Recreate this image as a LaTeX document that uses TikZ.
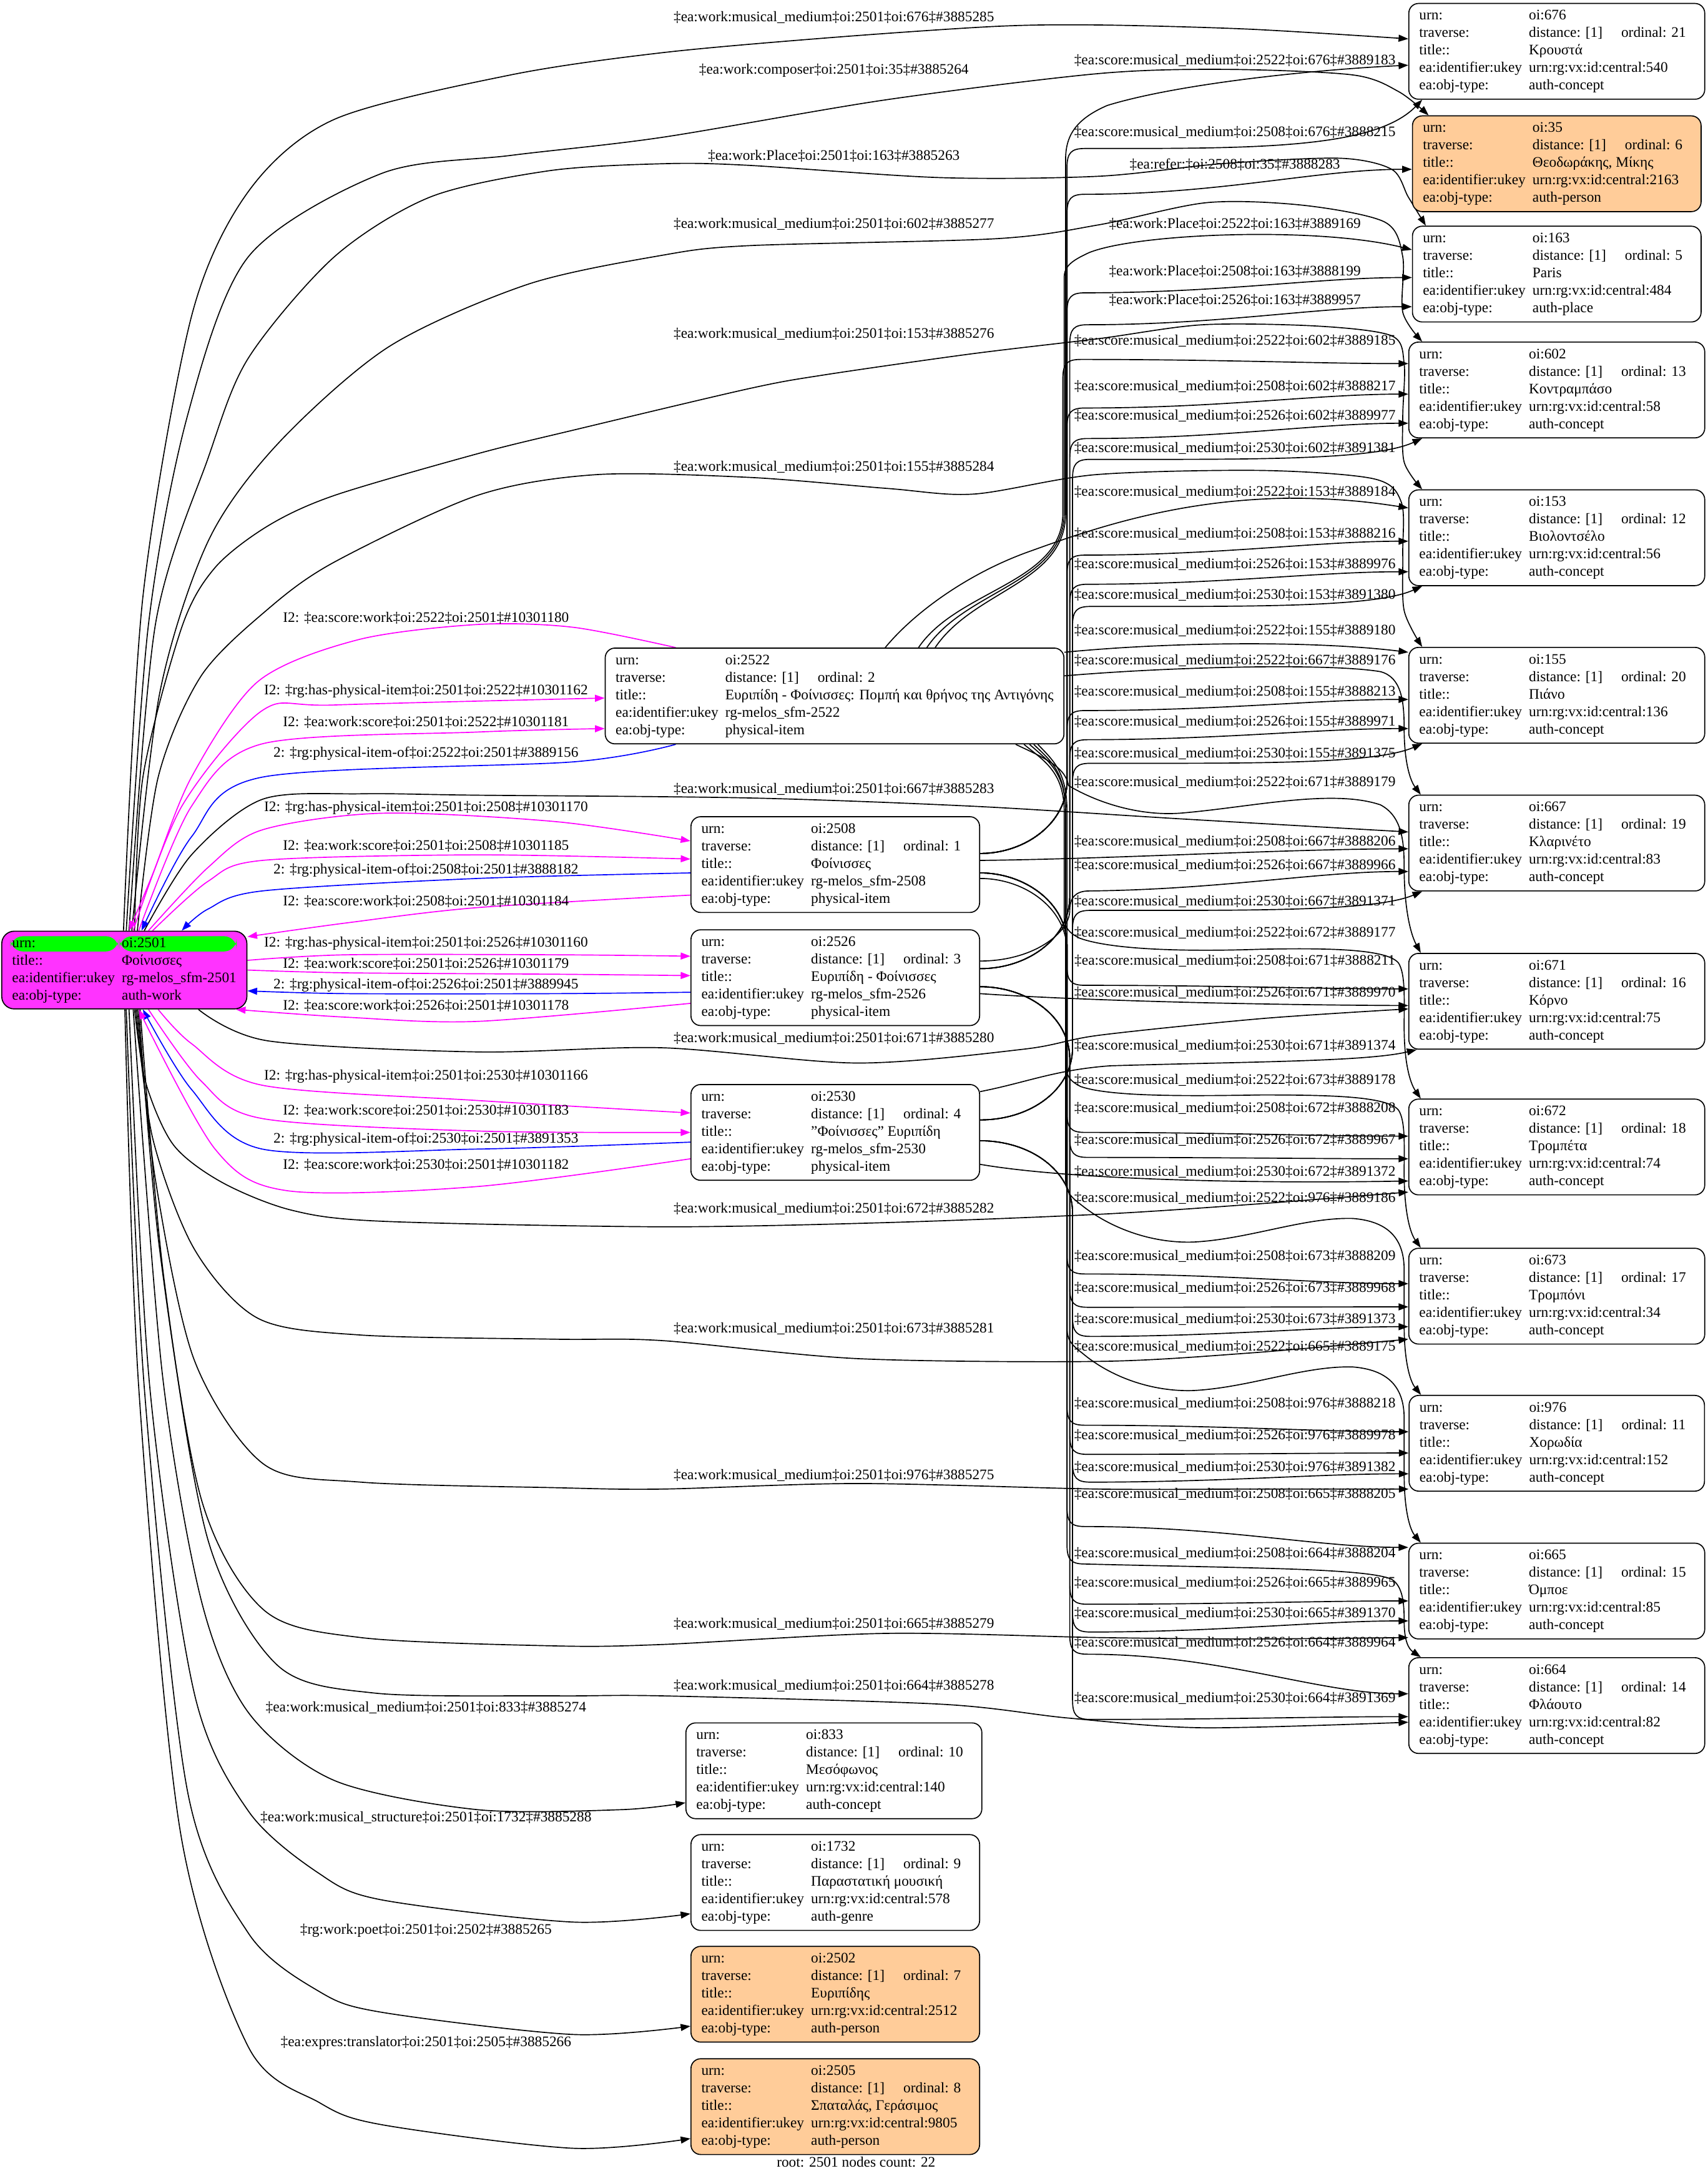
\documentclass[tikz,border=0pt]{standalone}
\usepackage{fontspec}
\setmainfont{Liberation Serif}
\usetikzlibrary{arrows.meta}
\pgfdeclarelayer{bg}
\pgfsetlayers{bg,main}
\definecolor{mag}{HTML}{FF00FF}
\definecolor{blu}{HTML}{0000FF}
\definecolor{rootfill}{HTML}{FF33FF}
\definecolor{rootgreen}{HTML}{00FF00}
\definecolor{peach}{HTML}{FFCC99}
\newcommand\lSMM{‡ea:score:musical\_medium‡oi:}
\newcommand\lWMM{‡ea:work:musical\_medium‡oi:2501‡oi:}
\newcommand\recT[5]{\begin{tabular}{@{}l@{\hspace{5pt}}l@{}}urn: & oi:#1\\ traverse: & distance: [1]\hspace{13.5pt}ordinal: #2\hspace*{6pt}\\ title:: & #3\\ ea:identifier:ukey & #4\\ ea:obj-type: & #5\end{tabular}}
% trunk edge, side entry: style, start, ys, tx, yt, ye, target
\newcommand\sE[7]{%
  \pgfmathsetmacro\tEsg{(#3>#5)?1:-1}%
  \pgfmathsetmacro\tEya{#3-(\tEsg)*22}%
  \pgfmathsetmacro\tEyb{#3-(\tEsg)*52}%
  \pgfmathsetmacro\tEyc{#5+(\tEsg)*14}%
  \pgfmathsetmacro\tEyd{#5+(\tEsg)*3}%
  \pgfmathsetmacro\tExa{#4-30}%
  \pgfmathsetmacro\tExe{#4+3}%
  \pgfmathsetmacro\tExf{#4+13}%
  \draw[#1] (#2) .. controls (\tExa,#3) and (#4,\tEya) .. (#4,\tEyb) -- (#4,\tEyc) .. controls (#4,\tEyd) and (\tExe,#5) .. (\tExf,#5) .. controls (880,#5) and (950,#6) .. (#7.west |- 0,#6);%
}
% trunk edge, bottom-left entry: style, start, ys, tx, yt, target
\newcommand\bE[6]{%
  \pgfmathsetmacro\tEsg{(#3>#5)?1:-1}%
  \pgfmathsetmacro\tEya{#3-(\tEsg)*22}%
  \pgfmathsetmacro\tEyb{#3-(\tEsg)*52}%
  \pgfmathsetmacro\tEyc{#5+(\tEsg)*14}%
  \pgfmathsetmacro\tEyd{#5+(\tEsg)*3}%
  \pgfmathsetmacro\tEyg{#5+1}%
  \pgfmathsetmacro\tExa{#4-30}%
  \pgfmathsetmacro\tExe{#4+3}%
  \pgfmathsetmacro\tExf{#4+13}%
  \draw[#1] (#2) .. controls (\tExa,#3) and (#4,\tEya) .. (#4,\tEyb) -- (#4,\tEyc) .. controls (#4,\tEyd) and (\tExe,#5) .. (\tExf,#5) .. controls (900,#5) and (990,\tEyg) .. ([xshift=10pt]#6.south west);%
}
\begin{document}
\begin{tikzpicture}[x=1pt,y=-1pt,
  ed/.style={draw, line width=0.75pt, -{Triangle[length=7pt,width=5pt]}},
  edm/.style={ed, draw=mag},
  edb/.style={ed, draw=blu},
  rec/.style={draw=black, line width=0.75pt, rounded corners=7pt, fill=white, inner xsep=7.5pt, inner ysep=3pt, font=\fontsize{10.5}{12.6}\selectfont},
  lbl/.style={inner sep=0pt, text height=7pt, text depth=2pt, font=\fontsize{10.5}{12.6}\selectfont}]
\useasboundingbox (0,0) rectangle (1231,1568);

% ---------- nodes ----------
\node[rec, fill=rootfill, rounded corners=9pt, inner ysep=2.8pt,
  path picture={\fill[rootgreen] ([xshift=6.4pt,yshift=-3.6pt]path picture bounding box.north west) rectangle ++(77.6pt,-11pt);
                \fill[rootgreen] ([xshift=85pt,yshift=-3.6pt]path picture bounding box.north west) rectangle ++(84.2pt,-11pt);}]
  (n2501) at (89.6,699) {\begin{tabular}{@{}l@{\hspace{5pt}}l@{}}urn: & oi:2501\\ title:: & Φοίνισσες\\ ea:identifier:ukey & rg-melos\_sfm-2501\\ ea:obj-type: & auth-work\end{tabular}};

\node[rec] (n676) at (1122,37) {\recT{676}{21}{Κρουστά}{urn:rg:vx:id:central:540}{auth-concept}};
\node[rec, fill=peach] (n35) at (1122,118) {\recT{35}{6}{Θεοδωράκης, Μίκης}{urn:rg:vx:id:central:2163}{auth-person}};
\node[rec] (n163) at (1122,197.5) {\recT{163}{5}{Paris}{urn:rg:vx:id:central:484}{auth-place}};
\node[rec] (n602) at (1122,281) {\recT{602}{13}{Κοντραμπάσο}{urn:rg:vx:id:central:58}{auth-concept}};
\node[rec] (n153) at (1122,387.5) {\recT{153}{12}{Βιολοντσέλο}{urn:rg:vx:id:central:56}{auth-concept}};
\node[rec] (n155) at (1122,501) {\recT{155}{20}{Πιάνο}{urn:rg:vx:id:central:136}{auth-concept}};
\node[rec] (n667) at (1122,607.5) {\recT{667}{19}{Κλαρινέτο}{urn:rg:vx:id:central:83}{auth-concept}};
\node[rec] (n671) at (1122,721.5) {\recT{671}{16}{Κόρνο}{urn:rg:vx:id:central:75}{auth-concept}};
\node[rec] (n672) at (1122,826.5) {\recT{672}{18}{Τρομπέτα}{urn:rg:vx:id:central:74}{auth-concept}};
\node[rec] (n673) at (1122,934) {\recT{673}{17}{Τρομπόνι}{urn:rg:vx:id:central:34}{auth-concept}};
\node[rec] (n976) at (1122,1040) {\recT{976}{11}{Χορωδία}{urn:rg:vx:id:central:152}{auth-concept}};
\node[rec] (n665) at (1122,1146.5) {\recT{665}{15}{Όμποε}{urn:rg:vx:id:central:85}{auth-concept}};
\node[rec] (n664) at (1122,1229) {\recT{664}{14}{Φλάουτο}{urn:rg:vx:id:central:82}{auth-concept}};

\node[rec] (n2522) at (601.5,501.5) {\recT{2522}{2}{Ευριπίδη - Φοίνισσες: Πομπή και θρήνος της Αντιγόνης}{rg-melos\_sfm-2522}{physical-item}};
\node[rec] (n2508) at (602,623) {\recT{2508}{1}{Φοίνισσες}{rg-melos\_sfm-2508}{physical-item}};
\node[rec] (n2526) at (602,704.5) {\recT{2526}{3}{Ευριπίδη - Φοίνισσες}{rg-melos\_sfm-2526}{physical-item}};
\node[rec] (n2530) at (602,816) {\recT{2530}{4}{"Φοίνισσες" Ευριπίδη}{rg-melos\_sfm-2530}{physical-item}};
\node[rec] (n833) at (601,1276) {\recT{833}{10}{Μεσόφωνος}{urn:rg:vx:id:central:140}{auth-concept}};
\node[rec] (n1732) at (602,1356.5) {\recT{1732}{9}{Παραστατική μουσική}{urn:rg:vx:id:central:578}{auth-genre}};
\node[rec, fill=peach] (n2502) at (602,1437) {\recT{2502}{7}{Ευριπίδης}{urn:rg:vx:id:central:2512}{auth-person}};
\node[rec, fill=peach] (n2505) at (602,1518) {\recT{2505}{8}{Σπαταλάς, Γεράσιμος}{urn:rg:vx:id:central:9805}{auth-person}};

\node[lbl] (cap) at (617,1559) {root: 2501 nodes count: 22};

% ---------- labels rank 1 ----------
\node[lbl] (J1) at (307,445.7) {I2: ‡ea:score:work‡oi:2522‡oi:2501‡\#10301180};
\node[lbl] (J2) at (307,498) {I2: ‡rg:has-physical-item‡oi:2501‡oi:2522‡\#10301162};
\node[lbl] (J3) at (307,521) {I2: ‡ea:work:score‡oi:2501‡oi:2522‡\#10301181};
\node[lbl] (J4) at (307,543) {2: ‡rg:physical-item-of‡oi:2522‡oi:2501‡\#3889156};
\node[lbl] (J5) at (307,582) {I2: ‡rg:has-physical-item‡oi:2501‡oi:2508‡\#10301170};
\node[lbl] (J6) at (307,610) {I2: ‡ea:work:score‡oi:2501‡oi:2508‡\#10301185};
\node[lbl] (J7) at (307,627) {2: ‡rg:physical-item-of‡oi:2508‡oi:2501‡\#3888182};
\node[lbl] (J8) at (307,650) {I2: ‡ea:score:work‡oi:2508‡oi:2501‡\#10301184};
\node[lbl] (J9) at (307,680) {I2: ‡rg:has-physical-item‡oi:2501‡oi:2526‡\#10301160};
\node[lbl] (J10) at (307,695) {I2: ‡ea:work:score‡oi:2501‡oi:2526‡\#10301179};
\node[lbl] (J11) at (307,710) {2: ‡rg:physical-item-of‡oi:2526‡oi:2501‡\#3889945};
\node[lbl] (J12) at (307,725.4) {I2: ‡ea:score:work‡oi:2526‡oi:2501‡\#10301178};
\node[lbl] (J13) at (307,775.7) {I2: ‡rg:has-physical-item‡oi:2501‡oi:2530‡\#10301166};
\node[lbl] (J14) at (307,801) {I2: ‡ea:work:score‡oi:2501‡oi:2530‡\#10301183};
\node[lbl] (J15) at (307,821) {2: ‡rg:physical-item-of‡oi:2530‡oi:2501‡\#3891353};
\node[lbl] (J16) at (307,840) {I2: ‡ea:score:work‡oi:2530‡oi:2501‡\#10301182};
\node[lbl] (J17) at (307,1231) {\lWMM833‡\#3885274};
\node[lbl] (J18) at (307,1310) {‡ea:work:musical\_structure‡oi:2501‡oi:1732‡\#3885288};
\node[lbl] (J19) at (307,1391) {‡rg:work:poet‡oi:2501‡oi:2502‡\#3885265};
\node[lbl] (J20) at (307,1472) {‡ea:expres:translator‡oi:2501‡oi:2505‡\#3885266};

% ---------- labels rank 2 ----------
\node[lbl] (K1) at (601,13) {\lWMM676‡\#3885285};
\node[lbl] (K2) at (601,51) {‡ea:work:composer‡oi:2501‡oi:35‡\#3885264};
\node[lbl] (K3) at (601,113) {‡ea:work:Place‡oi:2501‡oi:163‡\#3885263};
\node[lbl] (K4) at (601,162) {\lWMM602‡\#3885277};
\node[lbl] (K5) at (601,241) {\lWMM153‡\#3885276};
\node[lbl] (K6) at (601,337) {\lWMM155‡\#3885284};
\node[lbl] (K7) at (601,569) {\lWMM667‡\#3885283};
\node[lbl] (K8) at (601,748.7) {\lWMM671‡\#3885280};
\node[lbl] (K9) at (601,871.5) {\lWMM672‡\#3885282};
\node[lbl] (K10) at (601,958) {\lWMM673‡\#3885281};
\node[lbl] (K11) at (601,1063.5) {\lWMM976‡\#3885275};
\node[lbl] (K12) at (601,1170.7) {\lWMM665‡\#3885279};
\node[lbl] (K13) at (601,1215) {\lWMM664‡\#3885278};

% ---------- labels rank 3 ----------
\node[lbl] (L1) at (890,44) {\lSMM2522‡oi:676‡\#3889183};
\node[lbl] (L2) at (890,96) {\lSMM2508‡oi:676‡\#3888215};
\node[lbl] (L3) at (890,119) {‡ea:refer:‡oi:2508‡oi:35‡\#3888283};
\node[lbl] (L4) at (890,162) {‡ea:work:Place‡oi:2522‡oi:163‡\#3889169};
\node[lbl] (L5) at (890,196) {‡ea:work:Place‡oi:2508‡oi:163‡\#3888199};
\node[lbl] (L6) at (890,217) {‡ea:work:Place‡oi:2526‡oi:163‡\#3889957};
\node[lbl] (L7) at (890,246) {\lSMM2522‡oi:602‡\#3889185};
\node[lbl] (L8) at (890,279) {\lSMM2508‡oi:602‡\#3888217};
\node[lbl] (L9) at (890,300) {\lSMM2526‡oi:602‡\#3889977};
\node[lbl] (L10) at (890,323.6) {\lSMM2530‡oi:602‡\#3891381};
\node[lbl] (L11) at (890,355) {\lSMM2522‡oi:153‡\#3889184};
\node[lbl] (L12) at (890,385) {\lSMM2508‡oi:153‡\#3888216};
\node[lbl] (L13) at (890,407) {\lSMM2526‡oi:153‡\#3889976};
\node[lbl] (L14) at (890,429) {\lSMM2530‡oi:153‡\#3891380};
\node[lbl] (L15) at (890,455) {\lSMM2522‡oi:155‡\#3889180};
\node[lbl] (L16) at (890,476.5) {\lSMM2522‡oi:667‡\#3889176};
\node[lbl] (L17) at (890,499) {\lSMM2508‡oi:155‡\#3888213};
\node[lbl] (L18) at (890,520.7) {\lSMM2526‡oi:155‡\#3889971};
\node[lbl] (L19) at (890,543.7) {\lSMM2530‡oi:155‡\#3891375};
\node[lbl] (L20) at (890,564) {\lSMM2522‡oi:671‡\#3889179};
\node[lbl] (L21) at (890,606.8) {\lSMM2508‡oi:667‡\#3888206};
\node[lbl] (L22) at (890,624) {\lSMM2526‡oi:667‡\#3889966};
\node[lbl] (L23) at (890,650) {\lSMM2530‡oi:667‡\#3891371};
\node[lbl] (L24) at (890,672.4) {\lSMM2522‡oi:672‡\#3889177};
\node[lbl] (L25) at (890,693) {\lSMM2508‡oi:671‡\#3888211};
\node[lbl] (L26) at (890,716) {\lSMM2526‡oi:671‡\#3889970};
\node[lbl] (L27) at (890,754) {\lSMM2530‡oi:671‡\#3891374};
\node[lbl] (L28) at (890,779) {\lSMM2522‡oi:673‡\#3889178};
\node[lbl] (L29) at (890,799) {\lSMM2508‡oi:672‡\#3888208};
\node[lbl] (L30) at (890,822) {\lSMM2526‡oi:672‡\#3889967};
\node[lbl] (L31) at (890,845) {\lSMM2530‡oi:672‡\#3891372};
\node[lbl] (L32) at (890,864) {\lSMM2522‡oi:976‡\#3889186};
\node[lbl] (L33) at (890,905.5) {\lSMM2508‡oi:673‡\#3888209};
\node[lbl] (L34) at (890,928.7) {\lSMM2526‡oi:673‡\#3889968};
\node[lbl] (L35) at (890,951) {\lSMM2530‡oi:673‡\#3891373};
\node[lbl] (L36) at (890,971) {\lSMM2522‡oi:665‡\#3889175};
\node[lbl] (L37) at (890,1012) {\lSMM2508‡oi:976‡\#3888218};
\node[lbl] (L38) at (890,1034.6) {\lSMM2526‡oi:976‡\#3889978};
\node[lbl] (L39) at (890,1057.6) {\lSMM2530‡oi:976‡\#3891382};
\node[lbl] (L40) at (890,1077) {\lSMM2508‡oi:665‡\#3888205};
\node[lbl] (L41) at (890,1120) {\lSMM2508‡oi:664‡\#3888204};
\node[lbl] (L42) at (890,1141) {\lSMM2526‡oi:665‡\#3889965};
\node[lbl] (L43) at (890,1163) {\lSMM2530‡oi:665‡\#3891370};
\node[lbl] (L44) at (890,1184) {\lSMM2526‡oi:664‡\#3889964};
\node[lbl] (L45) at (890,1224) {\lSMM2530‡oi:664‡\#3891369};

% ---------- edges ----------
\begin{pgfonlayer}{bg}
% root -> right column (upper)
\draw[ed] plot[smooth] coordinates {(89,0 |- n2501.north) (103,430) (138,228) (179,138) (241,86) (368,54) (477,38) (600,27) (718,19) (792,18) (900,21) (n676.west |- 0,28)};
\draw[ed] plot[smooth] coordinates {(91,0 |- n2501.north) (107,450) (135,300) (179,185) (275,125) (368,112) (477,99) (638,72) (792,53) (884,50) (975,54) (1008,66) ([xshift=12pt]n35.north west)};
\draw[ed] plot[smooth] coordinates {(93,0 |- n2501.north) (112,450) (150,330) (179,258) (241,185) (310,142) (396,123) (477,118) (537,119) (678,128) (792,127) (880,118) (965,114) (1003,122) (1015,142) ([xshift=10pt]n163.north west)};
\draw[ed] plot[smooth] coordinates {(95,0 |- n2501.north) (115,500) (150,390) (200,320) (280,250) (380,205) (477,184) (540,177) (718,172) (792,162) (870,146) (940,148) (998,160) (1011,185) (1011,225) ([xshift=10pt]n602.north west)};
\draw[ed] plot[smooth] coordinates {(97,0 |- n2501.north) (103,560) (131,452) (155,409) (193,379) (241,357) (344,327) (413,310) (540,280) (595,270) (700,255) (792,244) (867,234) (950,235) (1003,242) (1012,262) (1011,300) (1012,333) ([xshift=10pt]n153.north west)};
\draw[ed] plot[smooth] coordinates {(99,0 |- n2501.north) (114,560) (145,487) (193,439) (241,405) (344,357) (430,342) (540,344) (640,352) (702,356) (790,342) (909,339) (990,345) (1010,362) (1011,400) (1012,440) ([xshift=10pt]n155.north west)};
\draw[ed] plot[smooth] coordinates {(104,0 |- n2501.north) (138,616) (189,576) (260,572) (344,573) (540,575) (702,581) (850,590) (n667.west |- 0,599.5)};
% root -> right column (lower)
\draw[ed] plot[smooth] coordinates {(143,0 |- n2501.south) (193,750) (344,758) (477,755) (618,766) (738,756) (792,746) (909,734) (n671.west |- 0,727)};
\draw[ed] plot[smooth] coordinates {(97,0 |- n2501.south) (105,780) (125,825) (160,852) (210,872) (275,880) (477,884) (638,881) (792,875) (900,868) (n672.west |- 0,859)};
\draw[ed] plot[smooth] coordinates {(98,0 |- n2501.south) (110,820) (140,900) (186,950) (260,962) (400,965) (477,966) (618,979) (792,981) (900,975) (n673.west |- 0,965)};
\draw[ed] plot[smooth] coordinates {(99,0 |- n2501.south) (112,850) (140,980) (190,1055) (260,1068) (400,1072) (477,1073) (618,1069) (792,1073) (900,1073) (n976.west |- 0,1073)};
\draw[ed] plot[smooth] coordinates {(100,0 |- n2501.south) (115,900) (145,1080) (190,1160) (260,1180) (400,1186) (477,1185) (638,1177) (792,1180) (900,1181) (n665.west |- 0,1180)};
\draw[ed] plot[smooth] coordinates {(101,0 |- n2501.south) (118,920) (150,1110) (200,1200) (270,1220) (400,1222) (477,1222) (678,1228) (770,1238) (867,1245) (n664.west |- 0,1241)};
% root -> lower middle
\draw[ed] plot[smooth] coordinates {(96,0 |- n2501.south) (117,990) (145,1153) (179,1234) (241,1283) (344,1304) (448,1304) (n833.west |- 0,1299)};
\draw[ed] plot[smooth] coordinates {(93,0 |- n2501.south) (108,1000) (140,1220) (179,1305) (230,1350) (275,1369) (413,1385) (n1732.west |- 0,1379)};
\draw[ed] plot[smooth] coordinates {(91,0 |- n2501.south) (104,1000) (135,1290) (179,1393) (230,1435) (275,1450) (413,1466) (n2502.west |- 0,1460)};
\draw[ed] plot[smooth] coordinates {(90,0 |- n2501.south) (100,1000) (130,1320) (179,1475) (230,1515) (275,1531) (413,1548) (n2505.west |- 0,1541)};

% root <-> physical items
\draw[edm] plot[smooth] coordinates {(487,0 |- n2522.north) (413,452) (344,450) (258,461) (186,491) (138,560) (110,630) (93,0 |- n2501.north)};
\draw[edm] plot[smooth] coordinates {(96,0 |- n2501.north) (131,581) (189,512) (241,508) (n2522.west |- 0,503)};
\draw[edm] plot[smooth] coordinates {(100,0 |- n2501.north) (138,581) (189,536) (344,527.5) (n2522.west |- 0,525)};
\draw[edb] plot[smooth] coordinates {(487,0 |- n2522.south) (413,549) (189,560) (138,603) (102,0 |- n2501.north)};
\draw[edm] plot[smooth] coordinates {(107,0 |- n2501.north) (150,625) (189,598) (275,586) (400,592) (n2508.west |- 0,606)};
\draw[edm] plot[smooth] coordinates {(110,0 |- n2501.north) (150,635) (189,620) (344,616) (n2508.west |- 0,619)};
\draw[edb] plot[smooth] coordinates {(n2508.west |- 0,629) (344,633) (189,642) (150,655) (131,0 |- n2501.north)};
\draw[edm] plot[smooth] coordinates {(n2508.west |- 0,645) (344,654) (250,665) (n2501.east |- 0,675)};
\draw[edm] plot[smooth] coordinates {(n2501.east |- 0,692) (250,688) (400,688) (n2526.west |- 0,689)};
\draw[edm] plot[smooth] coordinates {(n2501.east |- 0,699) (250,701) (400,702) (n2526.west |- 0,703)};
\draw[edb] plot[smooth] coordinates {(n2526.west |- 0,715) (400,716) (250,716) (n2501.east |- 0,714)};
\draw[edm] plot[smooth] coordinates {(n2526.west |- 0,723) (344,736) (250,733) (170,0 |- n2501.south)};
\draw[edm] plot[smooth] coordinates {(114,0 |- n2501.south) (138,752) (189,782) (344,793) (n2530.west |- 0,802)};
\draw[edm] plot[smooth] coordinates {(107,0 |- n2501.south) (145,779) (189,806) (344,815) (n2530.west |- 0,816)};
\draw[edb] plot[smooth] coordinates {(n2530.west |- 0,823) (344,828) (189,828) (138,785) (103,0 |- n2501.south)};
\draw[edm] plot[smooth] coordinates {(n2530.west |- 0,835) (344,855) (207,858) (155,828) (100,0 |- n2501.south)};

% 2522 -> right column
\draw[ed] (638,0 |- n2522.north) .. controls (660,440) and (700,412) .. (743,397) .. controls (790,380) and (850,360) .. (929,359) .. controls (970,359) and (995,363) .. (n153.west |- 0,366);
\draw[ed] (662,0 |- n2522.north) .. controls (690,425) and (766,420) .. (766,370) -- (766,273) .. controls (766,262) and (769,259) .. (779,259) .. controls (880,259) and (950,262) .. (n602.west |- 0,262);
\draw[ed] (668,0 |- n2522.north) .. controls (696,425) and (767,420) .. (767,370) -- (767,200) .. controls (767,192) and (772,188) .. (785,182) .. controls (820,168) and (950,163) .. (n163.west |- 0,180);
\draw[ed] (674,0 |- n2522.north) .. controls (702,425) and (768,420) .. (768,370) -- (768,115) .. controls (768,98) and (775,86) .. (798,76) .. controls (850,60) and (950,50) .. (n676.west |- 0,47);
\draw[ed] (n2522.east |- 0,470) .. controls (850,462) and (950,462) .. (n155.west |- 0,470);
\draw[ed] (n2522.east |- 0,487) .. controls (850,480) and (960,478) .. (995,484) .. controls (1010,488) and (1012,505) .. (1012,525) .. controls (1012,548) and (1016,562) .. ([xshift=9pt]n667.north west);
\draw[ed] (732,0 |- n2522.south) .. controls (750,545) and (768,552) .. (770,566) .. controls (790,578) and (820,588) .. (850,586) .. controls (900,582) and (960,568) .. (995,580) .. controls (1010,588) and (1012,605) .. (1012,625) .. controls (1012,652) and (1016,672) .. ([xshift=9pt]n671.north west);
\draw[ed] (738,0 |- n2522.south) .. controls (752,548) and (767,556) .. (767,585) -- (767,660) .. controls (767,668) and (770,672) .. (778,676) .. controls (800,684) and (850,686) .. (909,684) .. controls (960,683) and (1000,684) .. (1008,694) .. controls (1013,702) and (1012,720) .. (1012,740) .. controls (1012,765) and (1016,780) .. ([xshift=9pt]n672.north west);
\draw[ed] (742,0 |- n2522.south) .. controls (755,548) and (768,556) .. (768,585) -- (768,766) .. controls (768,775) and (771,779) .. (779,783) .. controls (800,790) and (850,790) .. (909,789) .. controls (960,789) and (1000,790) .. (1008,800) .. controls (1013,808) and (1012,825) .. (1012,845) .. controls (1012,872) and (1016,888) .. ([xshift=9pt]n673.north west);
\draw[ed] (745,0 |- n2522.south) .. controls (757,548) and (768,556) .. (768,585) -- (768,850) .. controls (768,858) and (771,862) .. (779,868) .. controls (800,885) and (830,896) .. (860,895) .. controls (900,893) and (940,877) .. (975,878) .. controls (1000,880) and (1012,892) .. (1012,915) -- (1012,955) .. controls (1012,980) and (1016,995) .. ([xshift=9pt]n976.north west);
\draw[ed] (748,0 |- n2522.south) .. controls (759,548) and (769,556) .. (769,585) -- (769,957) .. controls (769,965) and (772,969) .. (780,975) .. controls (800,992) and (830,1003) .. (860,1002) .. controls (900,1000) and (940,984) .. (975,985) .. controls (1000,987) and (1012,999) .. (1012,1022) -- (1012,1062) .. controls (1012,1088) and (1016,1102) .. ([xshift=9pt]n665.north west);

% 2508 -> right column
\bE{ed}{n2508.east |- 0,615}{615}{769}{107}{n676}
\sE{ed}{n2508.east |- 0,615}{615}{769}{140}{122}{n35}
\sE{ed}{n2508.east |- 0,615}{615}{769}{211}{200}{n163}
\sE{ed}{n2508.east |- 0,615}{615}{769}{294}{284}{n602}
\sE{ed}{n2508.east |- 0,615}{615}{769}{400}{390}{n153}
\sE{ed}{n2508.east |- 0,615}{615}{769}{512}{504}{n155}
\draw[ed] (n2508.east |- 0,620) .. controls (800,619) and (920,612) .. (n667.west |- 0,611.6);
\sE{ed}{n2508.east |- 0,633}{633}{769}{710}{712.6}{n671}
\sE{ed}{n2508.east |- 0,629}{629}{769}{816}{818.7}{n672}
\sE{ed}{n2508.east |- 0,629}{629}{769}{918}{925}{n673}
\sE{ed}{n2508.east |- 0,629}{629}{769}{1027}{1031.7}{n976}
\sE{ed}{n2508.east |- 0,629}{629}{769}{1100}{1115}{n665}
\draw[ed] (n2508.east |- 0,629) .. controls (739,629) and (769,651) .. (769,681) -- (769,1113) .. controls (769,1124) and (772,1127) .. (782,1127) .. controls (900,1130) and (985,1130) .. (1003,1138) .. controls (1011,1143) and (1012,1155) .. (1012,1168) .. controls (1012,1182) and (1015,1188) .. ([xshift=9pt]n664.north west);

% 2526 -> right column
\sE{ed}{n2526.east |- 0,698}{698}{771}{234}{221}{n163}
\sE{ed}{n2526.east |- 0,698}{698}{771}{316}{305}{n602}
\sE{ed}{n2526.east |- 0,698}{698}{771}{421}{412}{n153}
\sE{ed}{n2526.east |- 0,698}{698}{771}{533}{525}{n155}
\draw[ed] (n2526.east |- 0,692.5) .. controls (745,692.5) and (771,672) .. (771,656) .. controls (771,647) and (775,642) .. (785,642) .. controls (880,641) and (950,628) .. (n667.west |- 0,628);
\draw[ed] (n2526.east |- 0,716) .. controls (780,721) and (900,724) .. (n671.west |- 0,724.6);
\sE{ed}{n2526.east |- 0,711}{711}{771}{834}{835}{n672}
\sE{ed}{n2526.east |- 0,711}{711}{771}{942}{941.7}{n673}
\sE{ed}{n2526.east |- 0,711}{711}{771}{1048}{1047}{n976}
\sE{ed}{n2526.east |- 0,711}{711}{771}{1156}{1153.6}{n665}
\sE{ed}{n2526.east |- 0,711}{711}{771}{1192}{1220.5}{n664}

% 2530 -> right column
\bE{ed}{n2530.east |- 0,807}{807}{773}{331}{n602}
\bE{ed}{n2530.east |- 0,807}{807}{773}{437}{n153}
\bE{ed}{n2530.east |- 0,807}{807}{773}{550}{n155}
\bE{ed}{n2530.east |- 0,807}{807}{773}{656}{n667}
\draw[ed] (n2530.east |- 0,786.6) .. controls (740,780) and (760,771) .. (800,768) .. controls (900,765) and (985,765) .. ([xshift=6pt]n671.south west);
\draw[ed] (n2530.east |- 0,839) .. controls (770,850) and (900,853) .. (n672.west |- 0,851);
\sE{ed}{n2530.east |- 0,822}{822}{773}{963}{956}{n673}
\sE{ed}{n2530.east |- 0,822}{822}{773}{1068}{1062}{n976}
\sE{ed}{n2530.east |- 0,822}{822}{773}{1176}{1168}{n665}
\sE{ed}{n2530.east |- 0,822}{822}{773}{1239}{1237}{n664}
\end{pgfonlayer}
\end{tikzpicture}
\end{document}
